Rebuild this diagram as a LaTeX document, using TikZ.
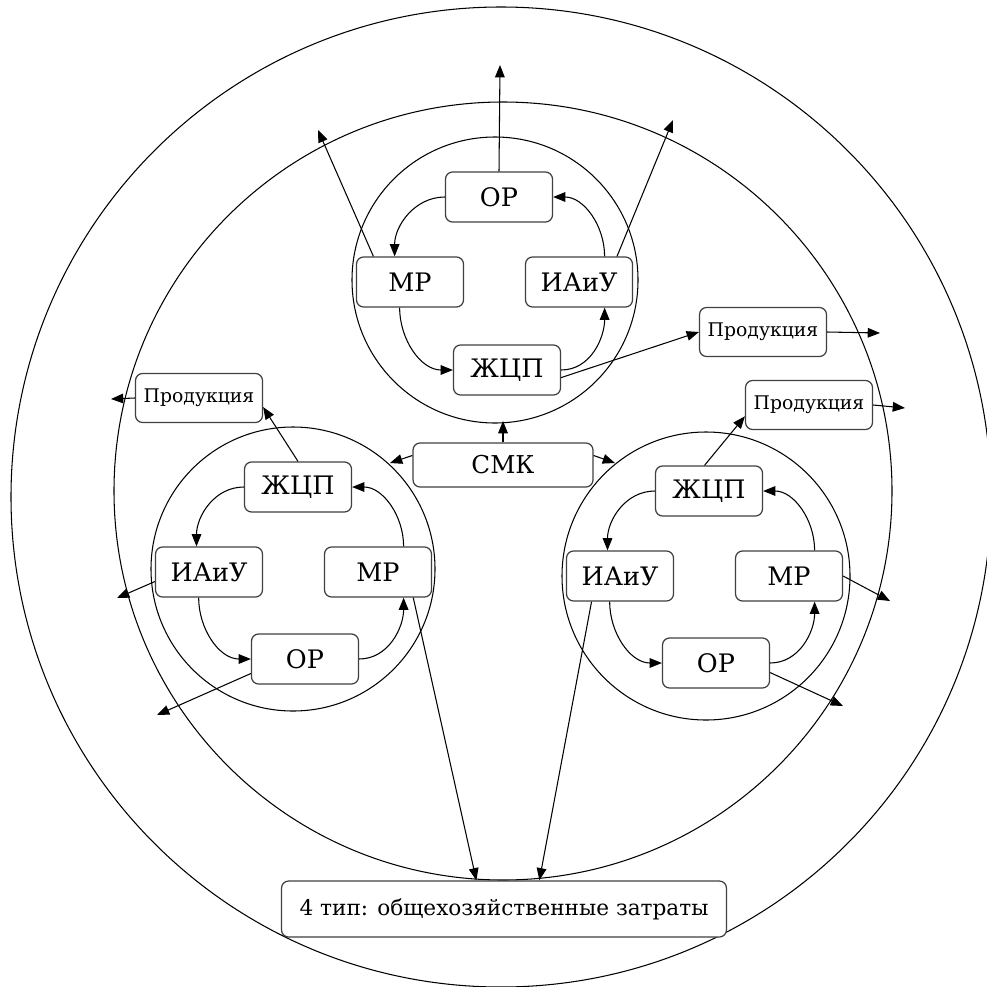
\documentclass[tikz,border=0pt]{standalone}
\usepackage{fontspec}
\setmainfont{DejaVu Serif}
\usetikzlibrary{arrows.meta}
\tikzset{
	blk/.style={draw=black!75, line width=0.7pt, rounded corners=4pt, fill=white,
		minimum width=2.14cm, minimum height=1cm, inner sep=1pt, font=\fontsize{14.5}{17}\selectfont},
	prodblk/.style={blk, minimum width=2.54cm, minimum height=0.98cm, font=\fontsize{10.7}{13}\selectfont},
	arr/.style={line width=0.6pt, -{Triangle[length=7pt,width=5.5pt]}},
	ring/.style={line width=0.6pt}
}
\begin{document}
\begin{tikzpicture}[x=0.02cm, y=0.02cm]
		%%%%% START %%%%%
		\useasboundingbox (0,0) rectangle (987,-987);
		
		\draw[ring] (501,-497) circle (490);
		\draw[ring] (503,-491) circle (389);
		\draw[ring] (495,-280) circle (143);
		\draw[ring] (293,-569) circle (142);
		\draw[ring] (706,-576) circle (144);
		
		% top ring
		\node[blk] (orT) at (499,-197) {ОР};
		\node[blk] (mrT) at (410,-282) {МР};
		\node[blk] (iaT) at (579,-282) {ИАиУ};
		\node[blk] (zhT) at (507,-370) {ЖЦП};
		\node[prodblk] (prT) at (763,-332) {Продукция};
		
		% left ring
		\node[blk] (zhL) at (298,-487) {ЖЦП};
		\node[blk] (iaL) at (209,-572) {ИАиУ};
		\node[blk] (mrL) at (378,-572) {МР};
		\node[blk] (orL) at (305,-659) {ОР};
		\node[prodblk] (prL) at (199,-398) {Продукция};
		
		% right ring
		\node[blk] (zhR) at (709,-491) {ЖЦП};
		\node[blk] (iaR) at (620,-576) {ИАиУ};
		\node[blk] (mrR) at (789,-576) {МР};
		\node[blk] (orR) at (716,-663) {ОР};
		\node[prodblk] (prR) at (809,-405) {Продукция};
		
		\node[blk, minimum width=3.6cm, minimum height=0.88cm, font=\fontsize{14}{17}\selectfont] (smk) at (503,-465) {СМК};
		\node[blk, minimum width=8.9cm, minimum height=1.12cm, font=\fontsize{12.3}{15}\selectfont] (tip4) at (504,-909) {4 тип: общехозяйственные затраты};
		
		% free ends
		\coordinate (uT) at (500,-65);
		\coordinate (uTl) at (318,-130);
		\coordinate (uTr) at (673,-120);
		\coordinate (ePT) at (880,-333);
		\coordinate (ePL) at (111,-399);
		\coordinate (eIL) at (117,-598);
		\coordinate (eOL) at (157,-715);
		\coordinate (ePR) at (905,-408);
		\coordinate (eMR) at (890,-601);
		\coordinate (eOR) at (843,-706);
		\coordinate (sU) at (503,-421);
		\coordinate (sL) at (390,-463);
		\coordinate (sR) at (615,-463);
		
		% cycles
		\draw[arr] (orT.west) to[out=180, in=90] (mrT.121);
		\draw[arr] (mrT.248) to[out=-90, in=180] (zhT.west);
		\draw[arr] (zhT.east) to[out=0, in=-90] (iaT.-45);
		\draw[arr] (iaT.45) to[out=90, in=0] (orT.east);
		
		\draw[arr] (zhL.west) to[out=180, in=90] (iaL.116);
		\draw[arr] (iaL.248) to[out=-90, in=180] (orL.west);
		\draw[arr] (orL.east) to[out=0, in=-90] (mrL.-45);
		\draw[arr] (mrL.45) to[out=90, in=0] (zhL.east);
		
		\draw[arr] (zhR.west) to[out=180, in=90] (iaR.116);
		\draw[arr] (iaR.248) to[out=-90, in=180] (orR.west);
		\draw[arr] (orR.east) to[out=0, in=-90] (mrR.-45);
		\draw[arr] (mrR.45) to[out=90, in=0] (zhR.east);
		
		% outward
		\draw[arr] (orT.north) -- (uT);
		\draw[arr] (mrT.145) -- (uTl);
		\draw[arr] (iaT.34) -- (uTr);
		\draw[arr] (zhT.-8) -- (prT.west);
		\draw[arr] (prT.east) -- (ePT);
		
		\draw[arr] (zhL.north) -- (prL.-8);
		\draw[arr] (prL.west) -- (ePL);
		\draw[arr] (iaL.190) -- (eIL);
		\draw[arr] (orL.195) -- (eOL);
		\draw[arr] (mrL.-36) -- (tip4.134);
		
		\draw[arr] (zhR.100) -- (prR.190);
		\draw[arr] (prR.east) -- (ePR);
		\draw[arr] (mrR.east) -- (eMR);
		\draw[arr] (orR.-10) -- (eOR);
		\draw[arr] (iaR.-138) -- (tip4.39);
		
		\draw[arr] (smk.north) -- (sU);
		\draw[arr] (smk.174) -- (sL);
		\draw[arr] (smk.6) -- (sR);
		%%%%% END %%%%%
	\end{tikzpicture}
\end{document}
